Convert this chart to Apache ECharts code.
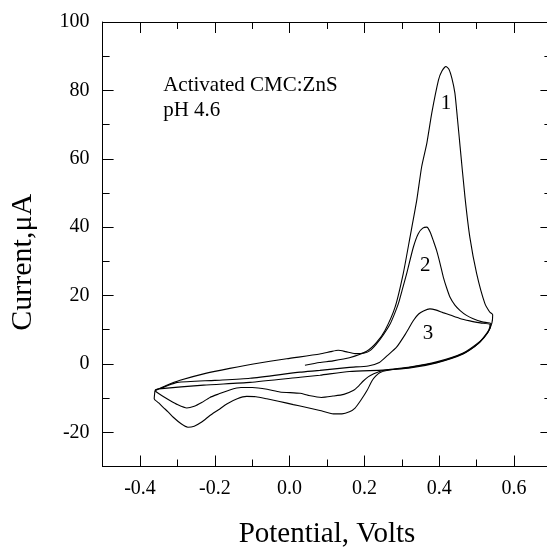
<!DOCTYPE html>
<html>
<head>
<meta charset="utf-8">
<script src="https://cdn.jsdelivr.net/npm/echarts/dist/echarts.min.js"></script>
<style>html,body{margin:0;padding:0;background:#fff;}#c{width:547px;height:548px;}</style>
</head>
<body>
<div id="c"></div>
<script>
// ---- data ----
const xMajorTicks = [-0.4, -0.2, 0.0, 0.2, 0.4, 0.6];
const yMajorTicks = [-20, 0, 20, 40, 60, 80, 100];

const curve1 = [
[0.041,-0.4],[0.08,0.4],[0.116,0.9],[0.16,1.8],[0.206,3.7],[0.232,6.2],[0.255,9.8],[0.282,16.6],[0.304,26.5],[0.322,37.1],[0.34,47.9],[0.353,57.6],[0.367,64.6],[0.38,73.3],[0.398,83.0],[0.407,85.6],[0.418,87.0],[0.426,86.2],[0.434,83.5],[0.442,79.2],[0.449,71.5],[0.456,63.4],[0.469,48.7],[0.482,37.0],[0.5,26.5],[0.522,17.7],[0.535,15.2],[0.543,14.4],[0.541,12.0],[0.53,9.2],[0.509,6.4],[0.48,4.0],[0.45,2.4],[0.393,0.4],[0.322,-1.0],[0.26,-1.9],[0.242,-2.5],[0.23,-3.6],[0.22,-5.0],[0.207,-7.8],[0.19,-10.7],[0.175,-12.9],[0.16,-14.0],[0.14,-14.6],[0.117,-14.6],[0.081,-13.6],[0.04,-12.6],[0.01,-11.9],[-0.03,-10.9],[-0.061,-10.2],[-0.09,-9.6],[-0.115,-9.5],[-0.14,-10.2],[-0.168,-11.7],[-0.19,-13.4],[-0.213,-15.1],[-0.235,-17.0],[-0.255,-18.2],[-0.272,-18.5],[-0.29,-17.5],[-0.311,-15.6],[-0.325,-14.0],[-0.338,-12.7],[-0.35,-11.4],[-0.362,-10.2],[-0.36,-7.8]
];
const curve2 = [
[-0.36,-7.8],[-0.33,-6.3],[-0.293,-4.8],[-0.222,-2.7],[-0.16,-1.3],[-0.097,0.0],[-0.008,1.5],[0.081,2.9],[0.11,3.6],[0.13,4.0],[0.15,3.6],[0.175,3.0],[0.2,3.2],[0.215,3.9],[0.232,5.8],[0.25,8.4],[0.268,11.5],[0.28,14.5],[0.291,17.7],[0.302,22.0],[0.313,26.4],[0.331,34.2],[0.344,38.1],[0.356,39.7],[0.367,40.0],[0.376,38.5],[0.385,35.8],[0.393,33.2],[0.402,29.5],[0.411,25.4],[0.42,22.2],[0.429,19.5],[0.442,17.2],[0.456,15.6],[0.473,14.2],[0.491,13.2],[0.515,12.3],[0.538,11.8],[0.536,10.4],[0.526,8.6],[0.509,6.6],[0.464,3.2],[0.393,0.6],[0.322,-0.9],[0.26,-1.7],[0.24,-2.2],[0.225,-2.9],[0.21,-3.8],[0.197,-5.0],[0.185,-6.4],[0.17,-7.8],[0.145,-8.9],[0.116,-9.4],[0.085,-9.8],[0.05,-9.2],[0.028,-8.6],[-0.026,-8.2],[-0.06,-7.4],[-0.1,-6.9],[-0.13,-6.9],[-0.16,-7.6],[-0.19,-8.8],[-0.213,-9.8],[-0.235,-11.3],[-0.255,-12.4],[-0.275,-12.9],[-0.3,-11.9],[-0.32,-10.7],[-0.34,-9.4],[-0.355,-8.3],[-0.36,-7.8]
];
const curve3 = [
[-0.36,-7.8],[-0.33,-6.5],[-0.3,-5.4],[-0.2,-4.8],[-0.106,-4.2],[0.028,-2.4],[0.081,-1.9],[0.16,-1.0],[0.21,-0.6],[0.24,0.4],[0.262,2.5],[0.286,4.9],[0.31,8.8],[0.331,12.7],[0.345,14.6],[0.358,15.5],[0.375,16.1],[0.39,15.8],[0.41,15.0],[0.429,14.3],[0.455,13.3],[0.482,12.6],[0.51,12.0],[0.536,11.5],[0.533,10.0],[0.522,8.2],[0.505,6.0],[0.464,2.9],[0.393,0.3],[0.322,-1.2],[0.25,-1.8],[0.16,-2.2],[0.081,-3.3],[0.028,-3.9],[-0.106,-5.4],[-0.23,-6.2],[-0.35,-7.3],[-0.36,-7.6]
];

const textNotes = ["Activated CMC:ZnS", "pH 4.6"];
const textNotePos = [[-0.338, 81.5], [-0.338, 74.2]];
const curveLabels = ["1", "2", "3"];
const curveLabelPos = [[0.418, 76.3], [0.3625, 28.8], [0.370, 8.9]];

const xTitle = "Potential, Volts";
const yTitle = "Current,\u03bcA";

// ---- chart ----
const FONT = '"Liberation Serif", "Times New Roman", serif';
const BLACK = '#000';
const isMajor = (v, list) => list.some(t => Math.abs(t - v) < 1e-6);
const lineStyle = { color: BLACK, width: 1 };

function xAx(pos, fine, withLabels) {
  const a = {
    type: 'value', min: -0.5, max: 0.7, position: pos,
    axisLine: { show: fine, lineStyle: lineStyle, onZero: false },
    axisTick: { show: true, inside: true, length: fine ? 7 : 11, lineStyle: lineStyle },
    splitLine: { show: false },
    axisLabel: { show: false }
  };
  if (fine) a.interval = 0.1; else a.splitNumber = 6;
  if (withLabels) {
    a.axisLabel = { show: true, fontFamily: FONT, fontSize: 20, color: BLACK, margin: 12,
      formatter: v => isMajor(v, xMajorTicks) ? v.toFixed(1) : '' };
    a.name = xTitle; a.nameLocation = 'middle'; a.nameGap = 53;
    a.nameTextStyle = { fontFamily: FONT, fontSize: 29, color: BLACK };
  }
  return a;
}
function yAx(pos, fine, withLabels) {
  const a = {
    type: 'value', min: -30, max: 100, position: pos,
    axisLine: { show: fine, lineStyle: lineStyle, onZero: false },
    axisTick: { show: true, inside: true, length: fine ? 7 : 11, lineStyle: lineStyle },
    splitLine: { show: false },
    axisLabel: { show: false }
  };
  if (fine) a.interval = 10; else a.splitNumber = 7;
  if (withLabels) {
    a.axisLabel = { show: true, fontFamily: FONT, fontSize: 20, color: BLACK, margin: 13,
      formatter: v => isMajor(v, yMajorTicks) ? String(Math.round(v)) : '' };
    a.name = yTitle; a.nameLocation = 'middle'; a.nameGap = 64;
    a.nameTextStyle = { fontFamily: FONT, fontSize: 30, color: BLACK, padding: [0, 36, 0, 0] };
  }
  return a;
}

const chart = echarts.init(document.getElementById('c'), null, { renderer: 'canvas' });
const lineSeries = (data) => ({
  type: 'line', data: data, xAxisIndex: 0, yAxisIndex: 0,
  showSymbol: false, symbol: 'none', smooth: 0.2, silent: true,
  lineStyle: { color: BLACK, width: 1.1 }, z: 3
});
const noteData = textNotes.map((t, i) => ({ value: [textNotePos[i][0], textNotePos[i][1], t],
  label: { position: 'right', distance: 0, align: 'left' } }))
  .concat(curveLabels.map((t, i) => ({ value: [curveLabelPos[i][0], curveLabelPos[i][1], t],
  label: { position: 'inside', align: 'center' } })));

chart.setOption({
  animation: false,
  backgroundColor: '#fff',
  grid: { left: 102.6, top: 22, width: 448.8, height: 444.5, containLabel: false, outerBoundsMode: 'none' },
  xAxis: [xAx('bottom', true, true), xAx('bottom', false, false), xAx('top', true, false), xAx('top', false, false)],
  yAxis: [yAx('left', true, true), yAx('left', false, false), yAx('right', true, false), yAx('right', false, false)],
  series: [
    lineSeries(curve1), lineSeries(curve2), lineSeries(curve3),
    { type: 'scatter', data: noteData, symbolSize: 0, silent: true, z: 5,
      itemStyle: { opacity: 1 },
      label: { show: true, fontFamily: FONT, fontSize: 21, color: BLACK, opacity: 1,
        formatter: p => p.value[2] } }
  ]
});
</script>
</body>
</html>
